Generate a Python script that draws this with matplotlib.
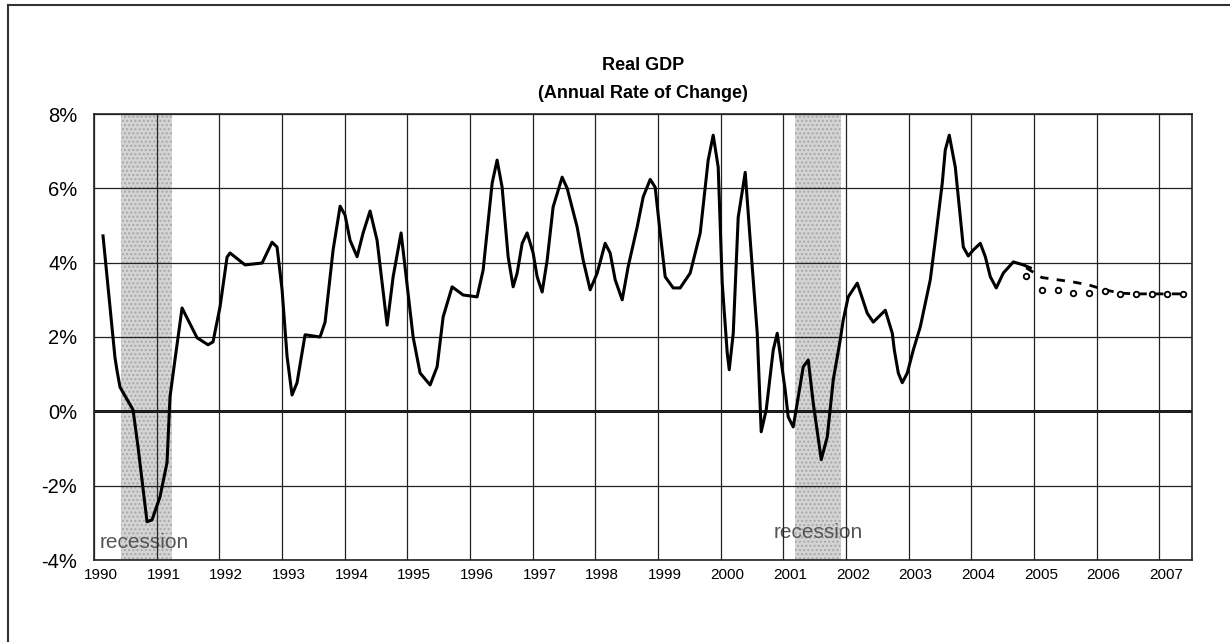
#!/usr/bin/env python
"""Real GDP annual rate of change, 1990-2004 actual with two forecast tracks."""
import matplotlib

matplotlib.use("Agg")
import matplotlib.pyplot as plt
from matplotlib.lines import Line2D
from matplotlib.transforms import ScaledTranslation

plt.rcParams["font.family"] = ["Liberation Sans", "DejaVu Sans"]

gdp_t = [1990.144, 1990.335, 1990.367, 1990.415, 1990.623, 1990.702, 1990.846, 1990.926, 1991.053, 1991.165,
         1991.213, 1991.293, 1991.405, 1991.644, 1991.820, 1991.899, 1992.011, 1992.123, 1992.171, 1992.410,
         1992.682, 1992.841, 1992.921, 1993.001, 1993.081, 1993.160, 1993.240, 1993.368, 1993.607, 1993.687,
         1993.815, 1993.927, 1994.006, 1994.086, 1994.198, 1994.294, 1994.405, 1994.517, 1994.677, 1994.773,
         1994.900, 1995.092, 1995.203, 1995.363, 1995.475, 1995.571, 1995.714, 1995.890, 1996.113, 1996.209,
         1996.353, 1996.432, 1996.512, 1996.608, 1996.688, 1996.752, 1996.832, 1996.911, 1997.007, 1997.071,
         1997.151, 1997.231, 1997.326, 1997.470, 1997.550, 1997.709, 1997.805, 1997.917, 1998.029, 1998.156,
         1998.236, 1998.316, 1998.428, 1998.523, 1998.667, 1998.763, 1998.875, 1998.954, 1999.034, 1999.114,
         1999.242, 1999.353, 1999.513, 1999.673, 1999.800, 1999.880, 1999.960, 2000.024, 2000.104, 2000.136,
         2000.200, 2000.279, 2000.391, 2000.471, 2000.583, 2000.646, 2000.726, 2000.838, 2000.902, 2001.029,
         2001.077, 2001.157, 2001.237, 2001.317, 2001.397, 2001.476, 2001.604, 2001.700, 2001.796, 2001.907,
         2001.955, 2002.035, 2002.179, 2002.338, 2002.434, 2002.626, 2002.738, 2002.770, 2002.834, 2002.897,
         2002.977, 2003.073, 2003.184, 2003.344, 2003.424, 2003.535, 2003.583, 2003.647, 2003.743, 2003.823,
         2003.871, 2003.950, 2004.030, 2004.142, 2004.222, 2004.302, 2004.397, 2004.509, 2004.669, 2004.829,
         2004.940]
gdp_v = [4.72, 1.44, 1.10, 0.65, 0.04, -0.95, -2.97, -2.92, -2.30, -1.38,
         0.39, 1.40, 2.78, 1.98, 1.79, 1.87, 2.81, 4.15, 4.26, 3.94,
         3.99, 4.55, 4.42, 3.27, 1.47, 0.44, 0.77, 2.06, 2.00, 2.40,
         4.34, 5.52, 5.28, 4.60, 4.16, 4.80, 5.39, 4.60, 2.32, 3.62,
         4.80, 2.00, 1.03, 0.71, 1.20, 2.54, 3.35, 3.13, 3.08, 3.80,
         6.14, 6.76, 6.03, 4.16, 3.35, 3.72, 4.52, 4.80, 4.26, 3.62,
         3.21, 4.07, 5.50, 6.30, 6.00, 4.96, 4.07, 3.27, 3.72, 4.52,
         4.26, 3.54, 3.00, 3.89, 4.96, 5.77, 6.24, 6.03, 4.80, 3.62,
         3.32, 3.32, 3.72, 4.80, 6.76, 7.43, 6.57, 3.45, 1.57, 1.12,
         2.10, 5.22, 6.43, 4.60, 2.10, -0.55, 0.04, 1.65, 2.10, 0.57,
         -0.15, -0.42, 0.39, 1.20, 1.38, 0.23, -1.30, -0.69, 0.85, 1.92,
         2.46, 3.08, 3.45, 2.64, 2.40, 2.72, 2.10, 1.65, 1.03, 0.77,
         1.03, 1.65, 2.27, 3.54, 4.60, 6.14, 7.03, 7.43, 6.57, 5.22,
         4.42, 4.18, 4.34, 4.52, 4.16, 3.62, 3.32, 3.72, 4.02, 3.94,
         3.86]

# forecast tracks, quarterly
fc_t = [2004.875, 2005.125, 2005.375, 2005.625, 2005.875, 2006.125,
        2006.375, 2006.625, 2006.875, 2007.125, 2007.375]
fc_dash = [3.86, 3.60, 3.54, 3.48, 3.40, 3.27, 3.18, 3.16, 3.16, 3.16, 3.16]
fc_dots = [3.64, 3.27, 3.27, 3.19, 3.19, 3.23, 3.16, 3.16, 3.16, 3.16, 3.16]

recessions = [(1990.43, 1991.25), (2001.19, 2001.92)]
rec_label_x = [1990.09, 2000.84]
rec_label_y = [-3.68, -3.42]

years = list(range(1990, 2008))
y_ticks = [-4, -2, 0, 2, 4, 6, 8]

fig = plt.figure(figsize=(12.3, 6.42), dpi=100)
ax = fig.add_axes([94 / 1230, 1 - 560 / 642, 1098 / 1230, 446 / 642])

for (a, b), lx, ly in zip(recessions, rec_label_x, rec_label_y):
    ax.axvspan(a, b, facecolor="#d4d4d4", edgecolor="#a8a8a8", hatch="....", lw=0, zorder=1)
    ax.text(lx, ly, "recession", color="#555555", fontsize=15, zorder=2)

ax.set_xlim(1990, 2007.52)
ax.set_ylim(-4, 8)
ax.set_xticks(years)
ax.set_xticklabels([str(y) for y in years], fontsize=11)
ax.set_yticks(y_ticks)
ax.set_yticklabels([f"{v}%" for v in y_ticks], fontsize=14.5)
ax.tick_params(length=0)
ax.tick_params(axis="y", pad=12)
ax.tick_params(axis="x", pad=6)
ax.grid(True, color="#222222", lw=0.9, zorder=1.5)
ax.set_axisbelow(False)
ax.axhline(0, color="black", lw=2, zorder=2)
for s in ax.spines.values():
    s.set_color("#222222")
    s.set_linewidth(1.2)

off = ScaledTranslation(7 / 100, 0, fig.dpi_scale_trans)
for lab in ax.get_xticklabels():
    lab.set_transform(lab.get_transform() + off)

ax.plot(gdp_t, gdp_v, color="black", lw=2.2, zorder=4)
ax.plot(fc_t, fc_dash, color="black", lw=2, dashes=(3, 3), zorder=4)
ax.plot(fc_t, fc_dots, ls="none", marker="o", ms=4, mfc="white", mec="black", mew=1.3, zorder=5)

fig.text(643 / 1230, 1 - 66 / 642, "Real GDP", ha="center", va="center", fontsize=13, fontweight="bold")
fig.text(643 / 1230, 1 - 93 / 642, "(Annual Rate of Change)", ha="center", va="center",
         fontsize=13, fontweight="bold")

# outer frame: only left and top edges show
fig.add_artist(Line2D([8 / 1230, 8 / 1230], [0, 1 - 5 / 642], color="#333333", lw=1.5))
fig.add_artist(Line2D([8 / 1230, 1], [1 - 5 / 642, 1 - 5 / 642], color="#333333", lw=1.5))

fig.savefig("out.png", dpi=100)
